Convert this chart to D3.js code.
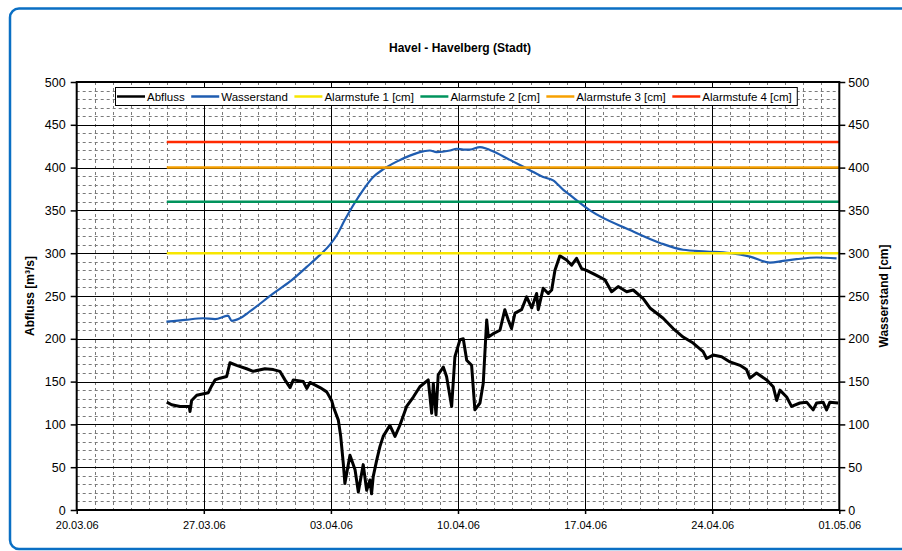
<!DOCTYPE html>
<html>
<head>
<meta charset="utf-8">
<script src="https://d3js.org/d3.v7.min.js"></script>
<style>
 body {margin: 0; background: #fff;}
 text {font-family: Arial, "Liberation Sans", sans-serif; fill: #000;}
 .minor line {stroke: #7a7a7a; stroke-dasharray: 3,3;}
 .major line {stroke: #000; stroke-width: 1;}
</style>
</head>
<body>
<svg width=902 height=551></svg>
<script>
// Tage seit 20.03.06 und Werte
const start = Date.UTC(2006, 2, 20);
const abflussTag = [4.96, 5.23, 5.69, 6.20, 6.24, 6.33, 6.61, 7.25, 7.43, 7.62, 7.89, 8.26, 8.44, 8.81, 9.36, 9.72,
 10.37, 10.83, 11.19, 11.47, 11.75, 11.93, 12.48, 12.67, 12.85, 13.40, 13.77, 14.04, 14.13, 14.41, 14.54, 14.68,
 14.77, 15.05, 15.33, 15.51, 15.78, 15.97, 16.15, 16.24, 16.33, 16.52, 16.70, 16.88, 17.25, 17.53, 17.80,
 18.17, 18.54, 18.90, 19.36, 19.55, 19.64, 19.79, 19.91, 20.19, 20.37, 20.65, 20.83, 21.11, 21.29, 21.48, 21.75,
 21.93, 22.21, 22.39, 22.58, 22.67, 22.94, 23.31, 23.58, 23.77, 23.95, 24.14, 24.50, 24.78, 25.06, 25.33, 25.42,
 25.69, 25.97, 26.16, 26.34, 26.61, 26.98, 27.26, 27.53, 27.81, 28.08, 28.63, 29.09, 29.46, 29.82, 30.29, 30.65,
 31.20, 31.57, 32.30, 32.85, 33.40, 33.95, 34.50, 34.69, 35.05, 35.52, 35.98, 36.53, 36.89, 37.08, 37.44, 38.00,
 38.36, 38.55, 38.73, 39.10, 39.37, 39.83, 40.20, 40.56, 40.75, 41.11, 41.30, 41.48, 41.94];
const abflussWert = [126, 123, 121, 121, 115, 128, 134, 137, 145, 152, 154, 156, 172, 169, 165, 162,
 165, 164, 162, 152, 143, 152, 150, 142, 149, 143, 138, 128, 121, 105, 86, 55,
 31, 64, 47, 21, 53, 23, 35, 19, 39, 58, 74, 86, 99, 86, 99,
 121, 132, 144, 152, 113, 148, 111, 158, 167, 156, 121, 179, 199, 200, 175, 169,
 117, 125, 148, 222, 202, 206, 210, 234, 222, 212, 230, 234, 249, 236, 253, 234,
 259, 253, 257, 280, 297, 292, 286, 294, 282, 280, 274, 269, 255, 261, 255, 257,
 247, 236, 224, 212, 202, 195, 185, 177, 181, 179, 173, 169, 164, 154, 160, 152,
 144, 128, 140, 132, 121, 125, 126, 117, 125, 126, 117, 126, 125];
const wasserTag = [4.94, 5.96, 6.96, 7.62, 8.33, 8.54, 8.99, 9.54, 10.83, 11.75, 12.67, 13.40, 13.95, 14.32, 14.77,
 15.23, 15.78, 16.33, 16.88, 17.62, 18.35, 19.09, 19.45, 19.82, 20.56, 20.93, 21.29, 21.66, 22.21, 22.58, 23.13,
 23.68, 24.41, 24.96, 25.69, 26.24, 26.80, 27.16, 28.27, 30.47, 32.12, 33.40, 34.69, 35.97, 37.08, 38.18, 38.91,
 39.65, 40.75, 41.85];
const wasserWert = [220, 222, 224, 223, 227, 221, 224, 232, 253, 267, 284, 298, 310, 321, 339,
 356, 374, 389, 398, 407, 414, 419, 420, 418, 420, 422, 421, 421, 424, 422, 417,
 411, 403, 397, 389, 385, 374, 368, 350, 327, 312, 304, 302, 300, 296, 289, 291,
 293, 295, 294];
const alarmNamen = ["Alarmstufe 1 [cm]", "Alarmstufe 2 [cm]", "Alarmstufe 3 [cm]", "Alarmstufe 4 [cm]"];
const alarmWerte = [300, 360, 400, 430];
const alarmVon = 4.96, alarmBis = 42;
const xTickLabels = ["20.03.06", "27.03.06", "03.04.06", "10.04.06", "17.04.06", "24.04.06", "01.05.06"];
const yTicks = [0, 50, 100, 150, 200, 250, 300, 350, 400, 450, 500];

const farben = {abfluss: "#000000", wasser: "#1f5cb0", alarm: ["#f7e600", "#00935c", "#f7a000", "#ff2a00"]};

const tag = d => new Date(start + d * 864e5);
const px = v => Math.round(v) + 0.5;
const svg = d3.select("svg");

// Rahmen
svg.append("rect").attr("x", 10).attr("y", 8.5).attr("width", 1000).attr("height", 540.5)
 .attr("rx", 9).attr("fill", "none").attr("stroke", "#0a6fc4").attr("stroke-width", 2.5);

const L = 76.7, R = 839.3, T = 82, B = 510;
const x = d3.scaleUtc().domain([tag(0), tag(42)]).range([L, R]);
const yL = d3.scaleLinear().domain([0, 500]).range([B, T]);
const yR = d3.scaleLinear().domain([0, 500]).range([B, T]);

svg.append("text").attr("x", 460).attr("y", 52).attr("text-anchor", "middle")
 .attr("font-size", 12).attr("font-weight", "bold").text("Havel - Havelberg (Stadt)");

// Gitter
const tage = d3.range(0, 43);
const minorY = d3.range(0, 501, 10).filter(v => v % 50);
const g = svg.append("g");
g.append("g").attr("class", "minor").selectAll("line").data(tage.filter(d => d % 7)).join("line")
 .attr("x1", d => px(x(tag(d)))).attr("x2", d => px(x(tag(d)))).attr("y1", T).attr("y2", B);
g.append("g").attr("class", "minor").selectAll("line").data(minorY).join("line")
 .attr("y1", d => px(yL(d))).attr("y2", d => px(yL(d))).attr("x1", L).attr("x2", R);
g.append("g").attr("class", "major").selectAll("line").data(d3.range(7, 42, 7)).join("line")
 .attr("x1", d => px(x(tag(d)))).attr("x2", d => px(x(tag(d)))).attr("y1", T).attr("y2", B);
g.append("g").attr("class", "major").selectAll("line").data(yTicks.slice(1, -1)).join("line")
 .attr("y1", d => px(yL(d))).attr("y2", d => px(yL(d))).attr("x1", L).attr("x2", R);

// Reihen
const abfluss = abflussTag.map((d, i) => [tag(d), abflussWert[i]]);
const wasser = wasserTag.map((d, i) => [tag(d), wasserWert[i]]);
svg.append("path").datum(abfluss).attr("fill", "none").attr("stroke", farben.abfluss)
 .attr("stroke-width", 3).attr("stroke-linejoin", "round")
 .attr("d", d3.line().x(d => x(d[0])).y(d => yL(d[1])));
svg.append("path").datum(wasser).attr("fill", "none").attr("stroke", farben.wasser)
 .attr("stroke-width", 2.2).attr("stroke-linejoin", "round")
 .attr("d", d3.line().curve(d3.curveMonotoneX).x(d => x(d[0])).y(d => yR(d[1])));
svg.append("g").selectAll("line").data(alarmWerte).join("line")
 .attr("x1", x(tag(alarmVon))).attr("x2", x(tag(alarmBis)))
 .attr("y1", d => yR(d)).attr("y2", d => yR(d))
 .attr("stroke", (d, i) => farben.alarm[i]).attr("stroke-width", 2.5);

// Achsen
svg.append("rect").attr("x", L).attr("y", T).attr("width", R - L).attr("height", B - T)
 .attr("fill", "none").attr("stroke", "#000").attr("stroke-width", 2);

const ax = svg.append("g").attr("transform", `translate(0,${B})`)
 .call(d3.axisBottom(x).tickValues(d3.range(0, 43, 7).map(tag)).tickFormat((d, i) => xTickLabels[i])
  .tickSize(4).tickPadding(7));
ax.selectAll("text").attr("font-size", 11);
const al = svg.append("g").attr("transform", `translate(${L},0)`)
 .call(d3.axisLeft(yL).tickValues(yTicks).tickSize(6).tickPadding(5));
al.selectAll("text").attr("font-size", 12.5);
const ar = svg.append("g").attr("transform", `translate(${R},0)`)
 .call(d3.axisRight(yR).tickValues(yTicks).tickSize(6).tickPadding(3));
ar.selectAll("text").attr("font-size", 12.5);
svg.selectAll(".domain").remove();
svg.selectAll(".tick line").attr("stroke", "#000").attr("stroke-width", 1.5);
svg.selectAll(".tick text").attr("font-family", "Arial, 'Liberation Sans', sans-serif").attr("fill", "#000");

svg.append("text").attr("transform", `translate(34,${(T + B) / 2}) rotate(-90)`)
 .attr("text-anchor", "middle").attr("font-size", 12).attr("font-weight", "bold").text("Abfluss [m³/s]");
svg.append("text").attr("transform", `translate(888,${(T + B) / 2}) rotate(-90)`)
 .attr("text-anchor", "middle").attr("font-size", 12).attr("font-weight", "bold").text("Wasserstand [cm]");

// Legende
const eintraege = [{n: "Abfluss", c: farben.abfluss}, {n: "Wasserstand", c: farben.wasser}]
 .concat(alarmNamen.map((n, i) => ({n: n, c: farben.alarm[i]})));
const leg = svg.append("g");
const box = leg.append("rect").attr("x", 115.5).attr("y", 87.5).attr("height", 18)
 .attr("fill", "#fff").attr("stroke", "#000").attr("stroke-width", 1);
let lx = 117;
eintraege.forEach(e => {
 leg.append("line").attr("x1", lx).attr("x2", lx + 28).attr("y1", 96.5).attr("y2", 96.5)
  .attr("stroke", e.c).attr("stroke-width", 2.5);
 const t = leg.append("text").attr("x", lx + 30).attr("y", 100.5).attr("font-size", 11.5).text(e.n);
 lx += 30 + t.node().getComputedTextLength() + 6.5;
});
box.attr("width", lx - 115.5 - 1);
</script>
</body>
</html>
